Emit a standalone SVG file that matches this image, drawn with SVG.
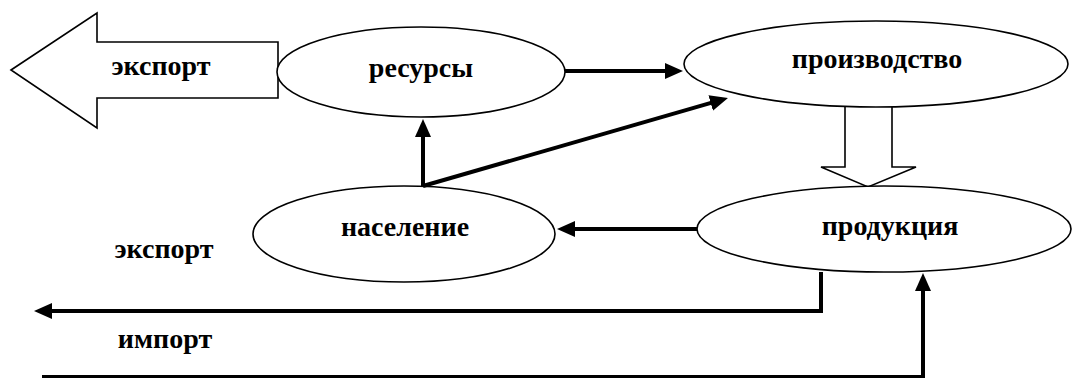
<svg xmlns="http://www.w3.org/2000/svg" width="1075" height="378" viewBox="0 0 1075 378">
<defs>
<style>
.node{fill:#fff;stroke:#000;stroke-width:1.6}
.lbl{font-family:"Liberation Serif","Times New Roman",serif;font-weight:bold;font-size:28px;fill:#000;text-anchor:middle}
.con{fill:none;stroke:#000;stroke-width:4}
</style>
<marker id="ah" markerUnits="userSpaceOnUse" markerWidth="18" markerHeight="16" refX="12" refY="8" orient="auto">
<path d="M0,0 L18,8 L0,16 z" fill="#000"/>
</marker>
</defs>
<rect width="1075" height="378" fill="#fff"/>
<g id="flow-arrow">
<path class="node" d="M845,106 V167 H821 L868,187 L916,167 H892 V106"/>
</g>
<g id="export-arrow">
<polygon class="node" points="11,70 97,13 97,42 278,42 278,98 97,98 97,128"/>
<text class="lbl" x="161" y="75">экспорт</text>
</g>
<g id="resources">
<ellipse class="node" cx="421" cy="72" rx="144" ry="45"/>
<text class="lbl" x="421" y="77">ресурсы</text>
</g>
<g id="production">
<ellipse class="node" cx="876" cy="64" rx="192" ry="43"/>
<text class="lbl" x="877" y="68">производство</text>
</g>
<g id="population">
<ellipse class="node" cx="404" cy="234" rx="151" ry="48"/>
<text class="lbl" x="405" y="236">население</text>
</g>
<g id="products">
<ellipse class="node" cx="884" cy="229" rx="187" ry="43"/>
<text class="lbl" x="890" y="235">продукция</text>
</g>
<g id="connectors">
<line class="con" x1="565" y1="71" x2="677" y2="71" marker-end="url(#ah)"/>
<line class="con" x1="423" y1="186" x2="423" y2="125" marker-end="url(#ah)"/>
<line class="con" x1="423" y1="186" x2="722.2" y2="99.7" marker-end="url(#ah)"/>
<line class="con" x1="697" y1="229" x2="563" y2="229" marker-end="url(#ah)"/>
<path class="con" d="M821,272 V311 H40" marker-end="url(#ah)"/>
<path class="con" d="M42,377 H923 V279" marker-end="url(#ah)"/>
</g>
<g id="labels">
<text class="lbl" x="164" y="258">экспорт</text>
<text class="lbl" x="165" y="348">импорт</text>
</g>
</svg>
